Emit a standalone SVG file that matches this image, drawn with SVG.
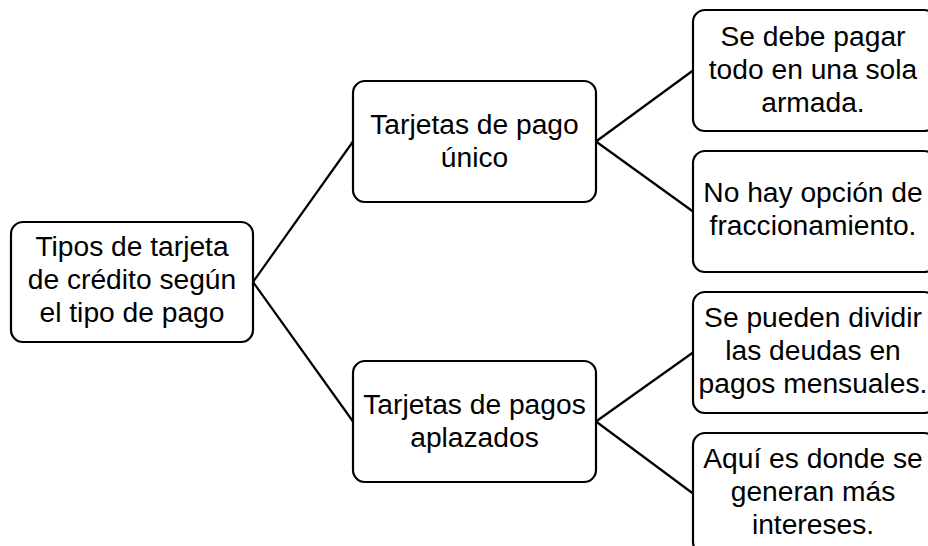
<svg xmlns="http://www.w3.org/2000/svg" width="928" height="546" viewBox="0 0 928 546">
<style>
.box{fill:#fff;stroke:#000;stroke-width:2.2}
.t{font-family:"Liberation Sans",Arial,sans-serif;font-size:28.2px;fill:#000;text-anchor:middle}
.c{stroke:#000;stroke-width:2.2;fill:none}
</style>
<rect width="928" height="546" fill="#fff"/>
<g id="connectors">
<line class="c" x1="253" y1="282" x2="353" y2="141.5"/>
<line class="c" x1="253" y1="282" x2="353" y2="421.5"/>
<line class="c" x1="596" y1="141.5" x2="693" y2="70.5"/>
<line class="c" x1="596" y1="141.5" x2="693" y2="211.5"/>
<line class="c" x1="596" y1="421.5" x2="693" y2="352.5"/>
<line class="c" x1="596" y1="421.5" x2="693" y2="493.5"/>
</g>
<g id="root">
<rect class="box" x="11" y="222" width="242" height="120" rx="12"/>
<text class="t" x="132" y="256">Tipos de tarjeta</text>
<text class="t" x="132" y="289">de crédito según</text>
<text class="t" x="132" y="322">el tipo de pago</text>
</g>
<g id="unico">
<rect class="box" x="353" y="81" width="243" height="121" rx="12"/>
<text class="t" x="474.5" y="134">Tarjetas de pago</text>
<text class="t" x="474.5" y="167">único</text>
</g>
<g id="aplazados">
<rect class="box" x="353" y="361" width="243" height="121" rx="12"/>
<text class="t" x="474.5" y="414">Tarjetas de pagos</text>
<text class="t" x="474.5" y="447">aplazados</text>
</g>
<g id="r1">
<rect class="box" x="693" y="10" width="243" height="121" rx="12"/>
<text class="t" x="813" y="46">Se debe pagar</text>
<text class="t" x="813" y="79">todo en una sola</text>
<text class="t" x="813" y="112">armada.</text>
</g>
<g id="r2">
<rect class="box" x="693" y="151" width="243" height="121" rx="12"/>
<text class="t" x="813" y="202">No hay opción de</text>
<text class="t" x="813" y="235">fraccionamiento.</text>
</g>
<g id="r3">
<rect class="box" x="693" y="292" width="243" height="121" rx="12"/>
<text class="t" x="813" y="327">Se pueden dividir</text>
<text class="t" x="813" y="360">las deudas en</text>
<text class="t" x="813" y="393">pagos mensuales.</text>
</g>
<g id="r4">
<rect class="box" x="693" y="433" width="243" height="121" rx="12"/>
<text class="t" x="813" y="468">Aquí es donde se</text>
<text class="t" x="813" y="501">generan más</text>
<text class="t" x="813" y="534">intereses.</text>
</g>
</svg>
